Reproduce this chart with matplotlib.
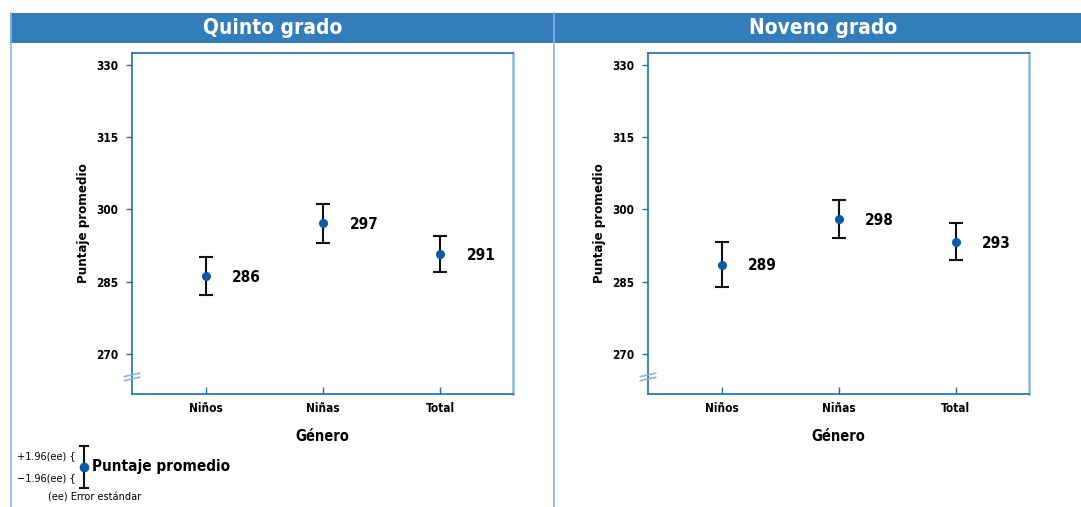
import matplotlib.pyplot as plt
from matplotlib.lines import Line2D

# ── Datos ──
categorias = ['Niños', 'Niñas', 'Total']
quinto_media = [286.2, 297.1, 290.8]
quinto_ee = [3.9, 3.95, 3.65]
quinto_etiquetas = ['286', '297', '291']
noveno_media = [288.6, 298.1, 293.3]
noveno_ee = [4.65, 3.95, 3.85]
noveno_etiquetas = ['289', '298', '293']
yticks = [270, 285, 300, 315, 330]

AZUL = '#337dbb'
AZUL_EJE = '#1f6cb8'
AZUL_CLARO = '#8ab6de'
PUNTO = '#0a5aa8'

plt.rcParams['font.family'] = ['DejaVu Sans']
plt.rcParams['font.stretch'] = 'condensed'

W, H = 1081, 507
fig = plt.figure(figsize=(W / 100, H / 100), dpi=100)


def fx(px):
    return px / W


def fy(py):
    return 1 - py / H


# ── Encabezado y bordes ──
fig.patches.append(plt.Rectangle((fx(10), fy(43)), fx(1071), fy(13) - fy(43),
                                 transform=fig.transFigure, facecolor=AZUL,
                                 edgecolor='none', zorder=0))
fig.lines.append(Line2D([fx(10.5), fx(10.5)], [0, fy(13)], transform=fig.transFigure,
                        color=AZUL_CLARO, lw=1.2))
fig.lines.append(Line2D([fx(553.5), fx(553.5)], [0, fy(13)], transform=fig.transFigure,
                        color=AZUL_CLARO, lw=1.2))
fig.text(fx(273), fy(28), 'Quinto grado', ha='center', va='center', color='white',
         fontsize=15, fontweight='bold')
fig.text(fx(823), fy(28), 'Noveno grado', ha='center', va='center', color='white',
         fontsize=15, fontweight='bold')


def panel(x0, x1, medias, ees, etiquetas):
    ax = fig.add_axes([fx(x0), fy(394), fx(x1 - x0), fy(52.5) - fy(394)])
    xs = list(range(len(categorias)))
    ax.errorbar(xs, medias, yerr=ees, fmt='o', color=PUNTO, ms=5.5,
                ecolor='#111111', elinewidth=1.5, capsize=5, capthick=1.5, zorder=3)
    for x, m, lab in zip(xs, medias, etiquetas):
        ax.annotate(lab, (x, m), xytext=(19, -1), textcoords='offset points',
                    ha='left', va='center', fontsize=11, fontweight='bold')
    ax.set_xlim(-0.63, 2.62)
    ax.set_ylim(261.8, 332.5)
    ax.set_xticks(xs)
    ax.set_xticklabels(categorias, fontsize=8.5, fontweight='bold')
    ax.set_yticks(yticks)
    ax.set_yticklabels([str(t) for t in yticks], fontsize=8.5, fontweight='bold')
    ax.tick_params(color=AZUL_EJE, length=4, width=1)
    ax.tick_params(axis='x', direction='in', length=5, pad=6)
    ax.tick_params(axis='y', pad=6)
    for s in ['left', 'bottom', 'top']:
        ax.spines[s].set_color(AZUL_EJE)
        ax.spines[s].set_linewidth(1.2)
    ax.spines['right'].set_color(AZUL_CLARO)
    ax.spines['right'].set_linewidth(1.8)
    ax.set_xlabel('Género', fontsize=10.5, fontweight='bold', labelpad=10)
    ax.set_ylabel('Puntaje promedio', fontsize=9.5, fontweight='bold', labelpad=4)
    # marca de corte en el eje
    for dy in (-0.006, 0.006):
        ax.plot([-0.02, 0.02], [0.05 + dy - 0.005, 0.05 + dy + 0.005],
                transform=ax.transAxes, color=AZUL_CLARO, lw=1.2, clip_on=False, zorder=4)
    return ax


panel(132, 513, quinto_media, quinto_ee, quinto_etiquetas)
panel(648, 1028.5, noveno_media, noveno_ee, noveno_etiquetas)

# ── Leyenda (abajo a la izquierda) ──
fig.lines.append(Line2D([fx(84), fx(84)], [fy(446), fy(488)], transform=fig.transFigure,
                        color='#111111', lw=1.5))
for yy in (446, 488):
    fig.lines.append(Line2D([fx(80), fx(88)], [fy(yy), fy(yy)], transform=fig.transFigure,
                            color='#111111', lw=1.5))
fig.lines.append(Line2D([fx(84)], [fy(467)], transform=fig.transFigure, marker='o',
                        color=PUNTO, ms=6))
fig.text(fx(92), fy(467), 'Puntaje promedio', ha='left', va='center', fontsize=11,
         fontweight='bold')
fig.text(fx(76), fy(456), '+1.96(ee) {', ha='right', va='center', fontsize=7.8)
fig.text(fx(76), fy(478), '\u22121.96(ee) {', ha='right', va='center', fontsize=7.8)
fig.text(fx(48), fy(498), '(ee) Error estándar', ha='left', va='center', fontsize=7.8)

fig.savefig('out.png', dpi=100, facecolor='white')
